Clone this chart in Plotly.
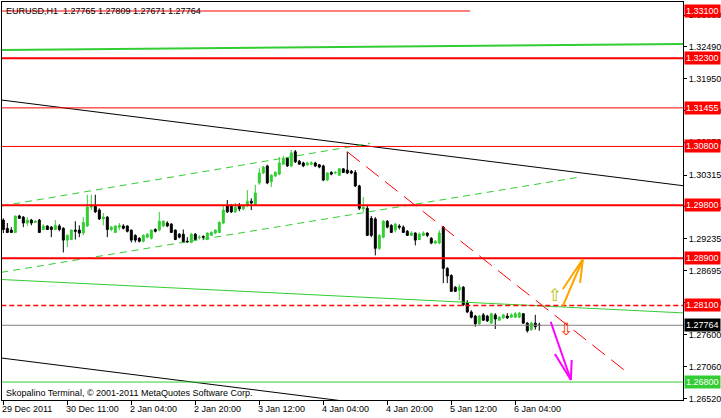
import plotly.graph_objects as go

# ---------------- data ----------------
bars = list(range(135))  # hourly bars, 29 Dec 2011 19:00 ... 6 Jan 2012 10:00

opens = [
    1.2955, 1.2941, 1.2938, 1.2934, 1.2962, 1.2960, 1.2950, 1.2955, 1.2951, 1.2955,
    1.2939, 1.2945, 1.2943, 1.2939, 1.2945, 1.2941, 1.2921, 1.2922, 1.2938, 1.2938,
    1.2933, 1.2945, 1.2977, 1.2980, 1.2972, 1.2957, 1.2960, 1.2939, 1.2934, 1.2943,
    1.2945, 1.2945, 1.2938, 1.2929, 1.2924, 1.2919, 1.2926, 1.2924, 1.2939, 1.2938,
    1.2945, 1.2950, 1.2948, 1.2938, 1.2931, 1.2931, 1.2919, 1.2917, 1.2931, 1.2925,
    1.2927, 1.2922, 1.2929, 1.2933, 1.2934, 1.2950, 1.2979, 1.2979, 1.2969, 1.2979,
    1.2974, 1.2980, 1.2987, 1.2982, 1.3018, 1.3035, 1.3047, 1.3020, 1.3030, 1.3033,
    1.3050, 1.3060, 1.3047, 1.3071, 1.3055, 1.3052, 1.3049, 1.3050, 1.3052, 1.3049,
    1.3047, 1.3023, 1.3036, 1.3035, 1.3031, 1.3042, 1.3040, 1.3038, 1.3036, 1.3013,
    1.2974, 1.2975, 1.2958, 1.2957, 1.2907, 1.2926, 1.2953, 1.2946, 1.2938, 1.2945,
    1.2943, 1.2936, 1.2929, 1.2933, 1.2922, 1.2929, 1.2933, 1.2924, 1.2916, 1.2916,
    1.2943, 1.2873, 1.2861, 1.2841, 1.2836, 1.2841, 1.2814, 1.2799, 1.2792, 1.2779,
    1.2794, 1.2792, 1.2780, 1.2794, 1.2785, 1.2789, 1.2792, 1.2790, 1.2790, 1.2790,
    1.2796, 1.2780, 1.2769, 1.2780, 1.27765,
]
highs = [
    1.2958, 1.2950, 1.2943, 1.2962, 1.2964, 1.2962, 1.2960, 1.2957, 1.2955, 1.2957,
    1.2948, 1.2946, 1.2945, 1.2955, 1.2948, 1.2943, 1.2931, 1.2939, 1.2953, 1.2946,
    1.2960, 1.2998, 1.2998, 1.2998, 1.2975, 1.2967, 1.2962, 1.2945, 1.2946, 1.2950,
    1.2948, 1.2946, 1.2939, 1.2931, 1.2926, 1.2931, 1.2933, 1.2939, 1.2941, 1.2969,
    1.2955, 1.2953, 1.2950, 1.2939, 1.2933, 1.2939, 1.2926, 1.2933, 1.2933, 1.2929,
    1.2929, 1.2934, 1.2936, 1.2939, 1.2953, 1.2980, 1.2989, 1.2982, 1.2984, 1.2984,
    1.2980, 1.3006, 1.2992, 1.3015, 1.3043, 1.3047, 1.3049, 1.3033, 1.3038, 1.3062,
    1.3064, 1.3062, 1.3074, 1.3074, 1.3057, 1.3054, 1.3054, 1.3055, 1.3054, 1.3050,
    1.3049, 1.3036, 1.3038, 1.3038, 1.3043, 1.3043, 1.3071, 1.3040, 1.3040, 1.3015,
    1.2994, 1.2979, 1.2962, 1.2960, 1.2931, 1.2955, 1.2955, 1.2948, 1.2950, 1.2948,
    1.2946, 1.2938, 1.2936, 1.2934, 1.2934, 1.2936, 1.2934, 1.2926, 1.2921, 1.2938,
    1.2945, 1.2875, 1.2863, 1.2843, 1.2846, 1.2843, 1.2819, 1.2802, 1.2794, 1.2794,
    1.2797, 1.2794, 1.2797, 1.2797, 1.2792, 1.2796, 1.2797, 1.2797, 1.2799, 1.2799,
    1.2797, 1.2782, 1.2782, 1.2794, 1.27809,
]
lows = [
    1.2933, 1.2933, 1.2933, 1.2933, 1.2957, 1.2943, 1.2945, 1.2946, 1.2950, 1.2933,
    1.2938, 1.2938, 1.2926, 1.2938, 1.2936, 1.2900, 1.2909, 1.2921, 1.2922, 1.2926,
    1.2929, 1.2943, 1.2972, 1.2967, 1.2955, 1.2946, 1.2926, 1.2936, 1.2933, 1.2938,
    1.2939, 1.2934, 1.2917, 1.2917, 1.2917, 1.2917, 1.2924, 1.2922, 1.2934, 1.2936,
    1.2943, 1.2943, 1.2933, 1.2921, 1.2924, 1.2916, 1.2917, 1.2916, 1.2921, 1.2922,
    1.2921, 1.2921, 1.2928, 1.2931, 1.2933, 1.2948, 1.2967, 1.2967, 1.2967, 1.2970,
    1.2972, 1.2977, 1.2972, 1.2980, 1.3015, 1.3033, 1.3016, 1.3011, 1.3028, 1.3031,
    1.3049, 1.3045, 1.3045, 1.3052, 1.3049, 1.3045, 1.3047, 1.3048, 1.3045, 1.3043,
    1.3021, 1.3021, 1.3031, 1.3033, 1.3030, 1.3035, 1.3033, 1.3033, 1.3011, 1.2972,
    1.2969, 1.2929, 1.2926, 1.2895, 1.2904, 1.2924, 1.2941, 1.2933, 1.2934, 1.2939,
    1.2933, 1.2928, 1.2928, 1.2912, 1.2921, 1.2928, 1.2926, 1.2914, 1.2914, 1.2914,
    1.2848, 1.2848, 1.2833, 1.2833, 1.2819, 1.2809, 1.2797, 1.2788, 1.2774, 1.2777,
    1.2784, 1.2782, 1.2779, 1.2770, 1.2784, 1.2787, 1.2787, 1.2789, 1.2789, 1.2789,
    1.2779, 1.2764, 1.2767, 1.2769, 1.27671,
]
closes = [
    1.2939, 1.2934, 1.2934, 1.2962, 1.2958, 1.2950, 1.2955, 1.2950, 1.2953, 1.2934,
    1.2945, 1.2939, 1.2939, 1.2946, 1.2939, 1.2921, 1.2929, 1.2938, 1.2936, 1.2933,
    1.2951, 1.2977, 1.2980, 1.2969, 1.2957, 1.2960, 1.2939, 1.2943, 1.2945, 1.2946,
    1.2941, 1.2936, 1.2921, 1.2921, 1.2919, 1.2929, 1.2931, 1.2938, 1.2936, 1.2953,
    1.2953, 1.2945, 1.2934, 1.2922, 1.2926, 1.2917, 1.2918, 1.2931, 1.2922, 1.2926,
    1.2926, 1.2933, 1.2934, 1.2938, 1.2951, 1.2972, 1.2969, 1.2969, 1.2977, 1.2974,
    1.2979, 1.2987, 1.2984, 1.3001, 1.3035, 1.3045, 1.3018, 1.3031, 1.3036, 1.3052,
    1.3060, 1.3047, 1.3069, 1.3054, 1.3050, 1.3047, 1.3052, 1.3052, 1.3047, 1.3045,
    1.3023, 1.3035, 1.3033, 1.3036, 1.3042, 1.3036, 1.3035, 1.3035, 1.3013, 1.2975,
    1.2977, 1.2929, 1.2929, 1.2907, 1.2929, 1.2953, 1.2943, 1.2934, 1.2948, 1.2943,
    1.2934, 1.2929, 1.2933, 1.2921, 1.2931, 1.2933, 1.2929, 1.2916, 1.2919, 1.2933,
    1.2873, 1.2860, 1.2834, 1.2834, 1.2841, 1.2811, 1.2799, 1.2790, 1.2779, 1.2792,
    1.2785, 1.2784, 1.2796, 1.2787, 1.2790, 1.2794, 1.2789, 1.2794, 1.2796, 1.2797,
    1.2780, 1.2767, 1.2780, 1.2774, 1.27764,
]

time_tick_bars = [0, 16, 32, 48, 64, 80, 96, 112, 128]
time_tick_labels = ["29 Dec 2011", "30 Dec 11:00", "2 Jan 04:00", "2 Jan 20:00",
                    "3 Jan 12:00", "4 Jan 04:00", "4 Jan 20:00", "5 Jan 12:00", "6 Jan 04:00"]

price_ticks = [1.33030, 1.32490, 1.31950, 1.31410, 1.30870, 1.30315, 1.29775,
               1.29235, 1.28695, 1.28150, 1.27600, 1.27060, 1.26520]

# horizontal levels
red_levels = [1.32300, 1.31455, 1.30800, 1.29800, 1.28900, 1.28100]
red_widths = [2, 1, 1, 2, 2, 1.3]
red_dashes = ["solid", "solid", "solid", "solid", "solid", "5px,3px"]
top_red_level = 1.33100
top_red_end_bar = 116.7
bid_price = 1.27764
green_level = 1.26800

# trend lines: ([bar0, bar1], [price0, price1])
green_top = ([-0.5, 170.5], [1.32438, 1.32540])
black_upper = ([-0.5, 170.5], [1.31589, 1.30129])
black_lower = ([-0.5, 170.5], [1.27208, 1.25748])
green_dash_upper = ([-0.5, 91.7], [1.29789, 1.30852])
green_dash_lower = ([-0.5, 144.2], [1.28663, 1.30281])
green_thin = ([-0.5, 170.5], [1.28541, 1.27972])
red_diag = ([86, 156.2], [1.3071, 1.26953])

orange_arrow = [([139.9, 144.9], [1.28091, 1.28889]),
                ([139.9, 144.9], [1.28380, 1.28889]),
                ([144.2, 144.9], [1.28482, 1.28889])]
magenta_arrow = [([136.85, 141.9], [1.27824, 1.26834]),
                 ([137.9, 141.9], [1.27276, 1.26834]),
                 ([142.1, 141.9], [1.27174, 1.26834])]
up_mark = (137.9, 1.28244)
down_mark = (140.7, 1.27667)

header_text = "EURUSD,H1  1.27765 1.27809 1.27671 1.27764"
footer_text = "Skopalino Terminal, © 2001-2011 MetaQuotes Software Corp."

# ---------------- figure ----------------
RED = "#FF0000"
GREEN = "#32CD32"
FONT = "Liberation Sans"
FS = 9
fig = go.Figure()

def line(xs, ys, color, width=1, dash="solid"):
    fig.add_trace(go.Scatter(x=xs, y=ys, mode="lines",
                             line=dict(color=color, width=width, dash=dash),
                             hoverinfo="skip", showlegend=False))

XL = [-0.5, 170.5]
line(green_top[0], green_top[1], GREEN, 2)
line(black_upper[0], black_upper[1], "black", 1)
line(black_lower[0], black_lower[1], "black", 1)
line(green_thin[0], green_thin[1], GREEN, 1)
line(green_dash_upper[0], green_dash_upper[1], GREEN, 1, "7px,5px")
line(green_dash_lower[0], green_dash_lower[1], GREEN, 1, "7px,5px")
line([-0.5, top_red_end_bar], [top_red_level, top_red_level], RED, 1)
line(XL, [bid_price, bid_price], "#808080", 1)
line(XL, [green_level, green_level], GREEN, 1)
for p, w, d in zip(red_levels, red_widths, red_dashes):
    line(XL, [p, p], RED, w, d)
line(red_diag[0], red_diag[1], RED, 1, "16px,8px")

fig.add_trace(go.Candlestick(
    x=bars, open=opens, high=highs, low=lows, close=closes,
    increasing=dict(line=dict(color=GREEN, width=1), fillcolor=GREEN),
    decreasing=dict(line=dict(color="black", width=1), fillcolor="black"),
    whiskerwidth=0, hoverinfo="skip", showlegend=False))

for xs, ys in orange_arrow:
    line(xs, ys, "#FFA500", 2)
for xs, ys in magenta_arrow:
    line(xs, ys, "#FF00FF", 2)

fig.add_trace(go.Scatter(x=[up_mark[0]], y=[up_mark[1]], mode="text", text=["⇧"],
                         textfont=dict(family="DejaVu Sans", size=17, color="#B8C000"),
                         hoverinfo="skip", showlegend=False))
fig.add_trace(go.Scatter(x=[down_mark[0]], y=[down_mark[1]], mode="text", text=["⇩"],
                         textfont=dict(family="DejaVu Sans", size=17, color="#FF3300"),
                         hoverinfo="skip", showlegend=False))

annotations = []
label_specs = [(top_red_level, RED)] + [(p, RED) for p in red_levels] + \
              [(bid_price, "black"), (green_level, GREEN)]
for p, c in label_specs:
    annotations.append(dict(xref="paper", yref="y", x=1, y=p, xanchor="left", yanchor="middle",
                            xshift=1, text=f"{p:.5f}", showarrow=False, bgcolor=c,
                            font=dict(family=FONT, size=FS, color="white"), borderpad=1))
for b, t in zip(time_tick_bars, time_tick_labels):
    annotations.append(dict(xref="x", yref="paper", x=b, y=0, xanchor="left", yanchor="top",
                            xshift=-3, yshift=-2, text=t, showarrow=False,
                            font=dict(family=FONT, size=FS, color="black")))
annotations.append(dict(xref="paper", yref="paper", x=0, y=1, xanchor="left", yanchor="top",
                        xshift=2, yshift=-2, text=header_text, showarrow=False,
                        font=dict(family=FONT, size=FS, color="black")))
annotations.append(dict(xref="paper", yref="paper", x=0, y=0, xanchor="left", yanchor="bottom",
                        xshift=2, yshift=0, text=footer_text, showarrow=False,
                        font=dict(family=FONT, size=FS, color="black")))

fig.update_layout(
    width=721, height=418,
    margin=dict(l=2, r=38, t=2, b=18, autoexpand=False),
    paper_bgcolor="white", plot_bgcolor="white",
    showlegend=False, hovermode=False,
    font=dict(family=FONT, size=FS, color="black"),
    annotations=annotations,
)
fig.update_xaxes(range=[-0.33, 169.93], showgrid=False, zeroline=False,
                 showline=True, mirror=True, linecolor="black", linewidth=1,
                 ticks="outside", ticklen=4, tickcolor="black",
                 tickvals=time_tick_bars, ticktext=[""] * len(time_tick_bars),
                 rangeslider_visible=False, fixedrange=True, automargin=False)
fig.update_yaxes(side="right", range=[1.26495, 1.33253], showgrid=False, zeroline=False,
                 showline=True, mirror=True, linecolor="black", linewidth=1,
                 ticks="outside", ticklen=3, tickcolor="black",
                 tickvals=price_ticks, ticktext=[f"{v:.5f}" for v in price_ticks],
                 tickfont=dict(family=FONT, size=FS, color="black"), fixedrange=True,
                 automargin=False)

fig.write_html("out.html", config={"displayModeBar": False},
               post_script="document.body.style.margin='0';document.body.style.overflow='hidden';")
